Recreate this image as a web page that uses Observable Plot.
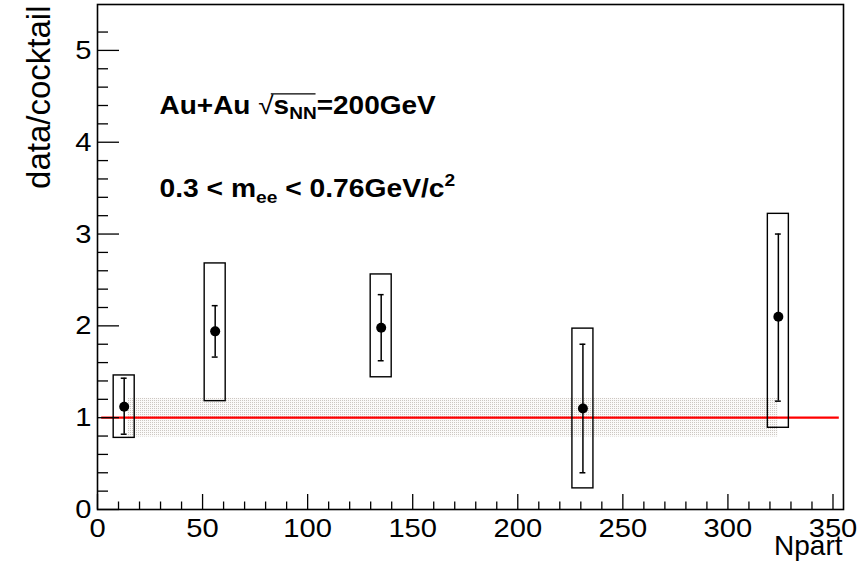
<!DOCTYPE html>
<html>
<head>
<meta charset="utf-8">
<script src="https://cdn.jsdelivr.net/npm/d3@7"></script>
<script src="https://cdn.jsdelivr.net/npm/@observablehq/plot@0.6"></script>
<style>
  html, body { margin: 0; padding: 0; background: #fff; }
  #chart svg { display: block; }
</style>
</head>
<body>
<div id="chart"></div>
<script>
// ---- data ----
const npart    = [12.7, 56, 135, 231, 324];
const ratio    = [1.12, 1.94, 1.98, 1.10, 2.10];
const statLow  = [0.82, 1.66, 1.62, 0.40, 1.18];
const statHigh = [1.43, 2.22, 2.34, 1.80, 3.00];
const sysLow   = [0.78, 1.18, 1.44, 0.23, 0.89];
const sysHigh  = [1.46, 2.68, 2.56, 1.97, 3.22];
const bandX    = [14.6, 324];
const bandY    = [0.79, 1.21];
const refLevel = [1];
const refX     = [2, 353];
const xTicks   = [0, 50, 100, 150, 200, 250, 300, 350];
const yTicks   = [0, 1, 2, 3, 4, 5];
const xMinor   = d3.range(0, 351, 10).filter(v => v % 50 !== 0);
const yMinor   = d3.range(0, 27).map(i => +(i * 0.2).toFixed(1)).filter(v => !Number.isInteger(v));
const xTitle   = "Npart";
const yTitle   = "data/cocktail";
const note1    = "Au+Au √sNN=200GeV";
const note2    = "0.3 < mee < 0.76GeV/c2";

// ---- layout / style constants ----
const W = 859, H = 571;
const M = {top: 4, right: 16, bottom: 62, left: 97};
const FW = W - M.left - M.right, FH = H - M.top - M.bottom;
const sysHalf = 5, capHalf = 1.4;
const font = "'Liberation Sans', Arial, Helvetica, sans-serif";
const tickFont = 26.5, noteFont = 25;

const rows = npart.map((x, i) => ({x, y: ratio[i], lo: statLow[i], hi: statHigh[i], slo: sysLow[i], shi: sysHigh[i]}));
const band = [{x1: bandX[0], x2: bandX[1], y1: bandY[0], y2: bandY[1]}];

const svg = Plot.plot({
  width: W, height: H,
  marginTop: M.top, marginRight: M.right, marginBottom: M.bottom, marginLeft: M.left,
  style: {fontFamily: font, background: "#fff", color: "#000"},
  x: {domain: [0, 355], axis: null},
  y: {domain: [0, 5.5], axis: null},
  marks: [
    Plot.rect(band, {x1: "x1", x2: "x2", y1: "y1", y2: "y2", fill: "url(#stipple)"}),
    Plot.ruleY(refLevel, {y: d => d, x1: () => refX[0], x2: () => refX[1], stroke: "#ff0000", strokeWidth: 2.2}),
    Plot.rect(rows, {x1: d => d.x - sysHalf, x2: d => d.x + sysHalf, y1: "slo", y2: "shi", fill: "none", stroke: "#000", strokeWidth: 1.4}),
    Plot.ruleX(rows, {x: "x", y1: "lo", y2: "hi", stroke: "#000", strokeWidth: 1.5}),
    Plot.ruleY(rows, {y: "lo", x1: d => d.x - capHalf, x2: d => d.x + capHalf, stroke: "#000", strokeWidth: 1.5}),
    Plot.ruleY(rows, {y: "hi", x1: d => d.x - capHalf, x2: d => d.x + capHalf, stroke: "#000", strokeWidth: 1.5}),
    Plot.dot(rows, {x: "x", y: "y", r: 5, fill: "#000", stroke: "none"}),
    // ticks (inside the frame, ROOT style)
    Plot.tickX(xTicks, {x: d => d, insetTop: FH - 15, stroke: "#000", strokeWidth: 1.3}),
    Plot.tickX(xMinor, {x: d => d, insetTop: FH - 7.5, stroke: "#000", strokeWidth: 1.3}),
    Plot.tickY(yTicks, {y: d => d, insetRight: FW - 22, stroke: "#000", strokeWidth: 1.3}),
    Plot.tickY(yMinor, {y: d => d, insetRight: FW - 11, stroke: "#000", strokeWidth: 1.3}),
    // tick labels
    Plot.text(xTicks, {x: d => d, frameAnchor: "bottom", text: d => String(d), lineAnchor: "top", dy: 9, fontSize: tickFont, fill: "#000"}),
    Plot.text(yTicks, {y: d => d, frameAnchor: "left", text: d => String(d), textAnchor: "end", dx: -6, fontSize: tickFont, fill: "#000"}),
    Plot.frame({stroke: "#000", strokeWidth: 1.6}),
    Plot.text([yTitle], {frameAnchor: "top-left", text: d => d, rotate: -90, textAnchor: "end", dx: -71, dy: 1, fontSize: 33, fill: "#000"}),
    Plot.text([xTitle], {frameAnchor: "bottom-right", text: d => d, textAnchor: "end", dx: -1, dy: 45, fontSize: 28, fill: "#000"}),
    Plot.text([note1], {x: 29.5, y: 4.40, text: d => d, textAnchor: "start", fontSize: noteFont, fontWeight: "bold", fill: "#000"}),
    Plot.text([note2], {x: 29.5, y: 3.49, text: d => d, textAnchor: "start", fontSize: noteFont, fontWeight: "bold", fill: "#000"})
  ]
});

const NS = "http://www.w3.org/2000/svg";
// stipple pattern for the cocktail uncertainty band
const defs = document.createElementNS(NS, "defs");
defs.innerHTML = `<pattern id="stipple" width="2" height="2" patternUnits="userSpaceOnUse">
  <rect width="2" height="2" fill="#fbfaf9"/>
  <rect width="1" height="1" fill="#ccc7c2"/>
</pattern>`;
svg.insertBefore(defs, svg.firstChild);

document.getElementById("chart").appendChild(svg);

// horizontal stretch of text about its own anchor (reference glyphs are wider)
function stretch(el, s) {
  const t = el.getAttribute("transform") || "";
  el.setAttribute("transform", `${t} scale(${s},1)`);
}

// rich text (sub/superscripts)
function rich(el, parts) {
  el.textContent = "";
  for (const p of parts) {
    const t = document.createElementNS(NS, "tspan");
    t.textContent = p.t;
    if (p.sub) { t.setAttribute("font-size", "17"); t.setAttribute("baseline-shift", "-6"); }
    if (p.sup) { t.setAttribute("font-size", "17"); t.setAttribute("baseline-shift", "11"); }
    if (p.thin) t.setAttribute("font-weight", "normal");
    el.appendChild(t);
  }
}
const tickStrings = new Set([...xTicks, ...yTicks].map(String));
for (const el of svg.querySelectorAll("text")) {
  const s = el.textContent;
  if (tickStrings.has(s)) {
    stretch(el, 1.1);
  } else if (s === note1) {
    rich(el, [{t: "Au+Au "}, {t: "√", thin: true}, {t: "s"}, {t: "NN", sub: true}, {t: "=200GeV"}]);
    stretch(el, 1.12);
    // radical overline across s_NN
    try {
      const a = el.getExtentOfChar(6), b = el.getExtentOfChar(9);
      const ln = document.createElementNS(NS, "line");
      const yTop = a.y + 3;
      ln.setAttribute("x1", a.x + a.width - 2.5);
      ln.setAttribute("x2", b.x + b.width - 1);
      ln.setAttribute("y1", yTop); ln.setAttribute("y2", yTop);
      ln.setAttribute("stroke", "#000"); ln.setAttribute("stroke-width", "1.2");
      const tr = el.getAttribute("transform");
      if (tr) ln.setAttribute("transform", tr);
      el.parentNode.appendChild(ln);
    } catch (e) {}
  } else if (s === note2) {
    rich(el, [{t: "0.3 < m"}, {t: "ee", sub: true}, {t: " < 0.76GeV/c"}, {t: "2", sup: true}]);
    stretch(el, 1.13);
  }
}
</script>
</body>
</html>
